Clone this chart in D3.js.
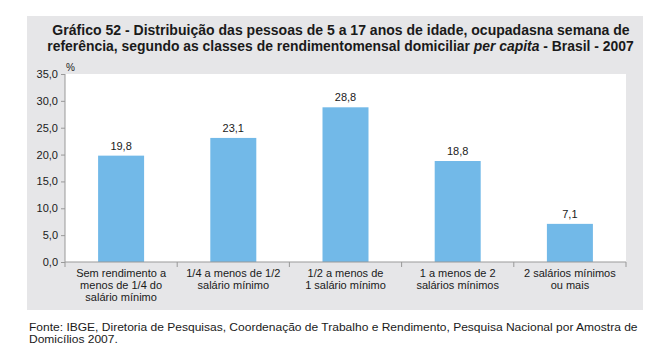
<!DOCTYPE html>
<html><head><meta charset="utf-8">
<script src="https://cdn.jsdelivr.net/npm/d3@7"></script>
<style>
body{margin:0;background:#fff;}
svg{display:block;font-family:"Liberation Sans",Arial,sans-serif;}
</style></head>
<body>
<svg id="c" width="670" height="363"></svg>
<script>
const categories = [
  ["Sem rendimento a","menos de 1/4 do","salário mínimo"],
  ["1/4 a menos de 1/2","salário mínimo"],
  ["1/2 a menos de","1 salário mínimo"],
  ["1 a menos de 2","salários mínimos"],
  ["2 salários mínimos","ou mais"]
];
const values = [19.8, 23.1, 28.8, 18.8, 7.1];
const yTicks = [0, 5, 10, 15, 20, 25, 30, 35];

const svg = d3.select("#c");
const fmt = v => d3.format(".1f")(v).replace(".", ",");

svg.append("rect").attr("x",27).attr("y",16).attr("width",616).attr("height",294).attr("fill","#e6e6e8");

const m = {l:65, r:626, t:74, b:262};
svg.append("rect").attr("x",m.l).attr("y",m.t).attr("width",m.r-m.l).attr("height",m.b-m.t).attr("fill","#fff");

const x = d3.scaleBand().domain(d3.range(categories.length)).range([m.l,m.r]).paddingInner(0.59).paddingOuter(0.295);
const xc = d3.scaleBand().domain(d3.range(categories.length)).range([m.l,m.r]).padding(0);
const y = d3.scaleLinear().domain([0,35]).range([m.b,m.t]);

function fit(t, w){
  const n = t.node(); const cw = n.getComputedTextLength();
  const xx = +t.attr("x"), yy = +t.attr("y");
  const s = w/cw;
  t.attr("transform", `translate(${xx*(1-s)},0) scale(${s},1)`);
}

// title
const t1 = svg.append("text").attr("x",341).attr("y",35).attr("text-anchor","middle")
  .attr("font-size",15).attr("font-weight","bold").attr("fill","#1a1a1a")
  .text("Gráfico 52 - Distribuição das pessoas de 5 a 17 anos de idade, ocupadasna semana de");
fit(t1, 578);
const t2 = svg.append("text").attr("x",340.5).attr("y",51).attr("text-anchor","middle")
  .attr("font-size",15).attr("font-weight","bold").attr("fill","#1a1a1a");
t2.append("tspan").text("referência, segundo as classes de rendimentomensal domiciliar ");
t2.append("tspan").attr("font-style","italic").text("per capita");
t2.append("tspan").text(" - Brasil - 2007");
fit(t2, 587);

// bars
svg.selectAll("rect.bar").data(values).join("rect").attr("class","bar")
  .attr("x",(d,i)=>x(i)).attr("width",x.bandwidth())
  .attr("y",d=>y(d)).attr("height",d=>y(0)-y(d)).attr("fill","#72b9e8");

svg.selectAll("text.val").data(values).join("text").attr("class","val")
  .attr("x",(d,i)=>x(i)+x.bandwidth()/2).attr("y",d=>y(d)-6)
  .attr("text-anchor","middle").attr("font-size",11).attr("fill","#1a1a1a").text(fmt);

// y axis
const ya = d3.axisLeft(y).tickValues(yTicks).tickFormat(fmt).tickSize(4).tickPadding(3);
const gy = svg.append("g").attr("transform",`translate(${m.l},0)`).call(ya);
gy.select(".domain").attr("stroke","#999").attr("d",`M0,${m.b}V${m.t}`);
gy.selectAll(".tick line").attr("stroke","#999");
gy.selectAll(".tick text").attr("font-size",11).attr("fill","#1a1a1a").attr("font-family","Liberation Sans, Arial, sans-serif");
svg.append("text").attr("x",66).attr("y",71).attr("font-size",10).attr("fill","#1a1a1a").text("%");

// x axis
const xa = d3.axisBottom(xc).tickValues([]).tickSize(0);
const gx = svg.append("g").attr("transform",`translate(0,${m.b})`).call(xa);
gx.select(".domain").attr("stroke","#999").attr("d",`M${m.l},0H${m.r}`);
const sep = d3.range(categories.length+1).map(i => i<categories.length ? xc(i) : m.r);
gx.selectAll("line.sep").data(sep).join("line").attr("class","sep")
  .attr("x1",d=>d).attr("x2",d=>d).attr("y1",0).attr("y2",5).attr("stroke","#999");
categories.forEach((lines,i)=>{
  const t = svg.append("text").attr("text-anchor","middle").attr("font-size",11).attr("fill","#1a1a1a");
  lines.forEach((l,j)=> t.append("tspan").attr("x",xc(i)+xc.bandwidth()/2).attr("y",277+j*12).text(l));
});

// footer
const f1 = svg.append("text").attr("x",29).attr("y",331).attr("font-size",11).attr("fill","#1a1a1a")
  .text("Fonte: IBGE, Diretoria de Pesquisas, Coordenação de Trabalho e Rendimento, Pesquisa Nacional por Amostra de");
fit(f1, 609);
const f2 = svg.append("text").attr("x",29).attr("y",343).attr("font-size",11).attr("fill","#1a1a1a")
  .text("Domicílios 2007.");
f2.attr("transform",f1.attr("transform"));
</script>
</body></html>
